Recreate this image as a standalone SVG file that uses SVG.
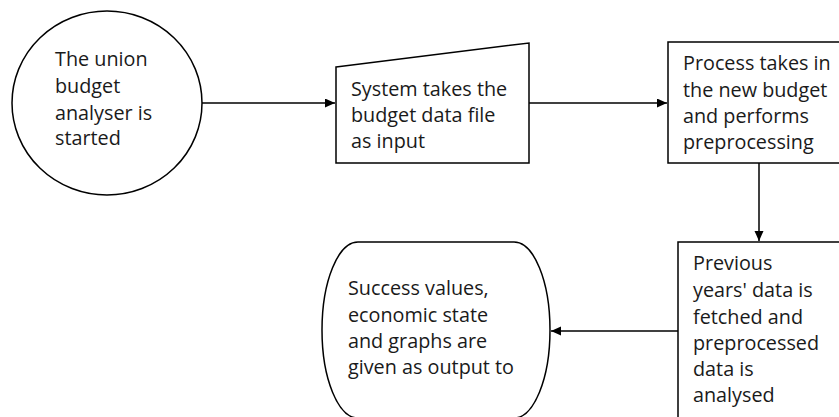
<svg xmlns="http://www.w3.org/2000/svg" width="839" height="417" viewBox="0 0 839 417">
<defs>
<style>
.s{fill:#fff;stroke:#000;stroke-width:1.5}
.t{font-family:"Open Sans","Noto Sans",sans-serif;font-size:19.8px;fill:#1a1a1a}
.c{fill:none;stroke:#000;stroke-width:1.5}
</style>
<marker id="a" markerWidth="10" markerHeight="10" refX="10" refY="4.5" orient="auto" markerUnits="userSpaceOnUse">
<path d="M0,0 L10,4.5 L0,9 Z" fill="#000"/>
</marker>
</defs>
<rect width="839" height="417" fill="#fff"/>
<g id="connectors">
<line class="c" x1="202" y1="103" x2="335" y2="103" marker-end="url(#a)"/>
<line class="c" x1="529" y1="103" x2="667" y2="103" marker-end="url(#a)"/>
<line class="c" x1="759" y1="163" x2="759" y2="241" marker-end="url(#a)"/>
<line class="c" x1="678" y1="331" x2="551" y2="331" marker-end="url(#a)"/>
</g>
<g id="start">
<ellipse class="s" cx="107" cy="103" rx="95" ry="92"/>
<text class="t"><tspan x="55" y="66">The union</tspan><tspan x="55" y="93">budget</tspan><tspan x="55" y="120">analyser is</tspan><tspan x="55" y="145">started</tspan></text>
</g>
<g id="input">
<polygon class="s" points="336,67 529,43 529,163 336,163"/>
<text class="t"><tspan x="351" y="96">System takes the</tspan><tspan x="351" y="122">budget data file</tspan><tspan x="351" y="148">as input</tspan></text>
</g>
<g id="process">
<rect class="s" x="668" y="42" width="175" height="121"/>
<text class="t"><tspan x="683" y="70">Process takes in</tspan><tspan x="683" y="97">the new budget</tspan><tspan x="683" y="123">and performs</tspan><tspan x="683" y="149">preprocessing</tspan></text>
</g>
<g id="analyse">
<rect class="s" x="678" y="242" width="165" height="180"/>
<text class="t"><tspan x="693" y="270">Previous</tspan><tspan x="693" y="297">years' data is</tspan><tspan x="693" y="324">fetched and</tspan><tspan x="693" y="350">preprocessed</tspan><tspan x="693" y="376">data is</tspan><tspan x="693" y="402">analysed</tspan></text>
</g>
<g id="output">
<rect class="s" x="322" y="242" width="228" height="176" rx="36" ry="88"/>
<text class="t"><tspan x="348" y="295">Success values,</tspan><tspan x="348" y="322">economic state</tspan><tspan x="348" y="348">and graphs are</tspan><tspan x="348" y="374">given as output to</tspan></text>
</g>
</svg>
